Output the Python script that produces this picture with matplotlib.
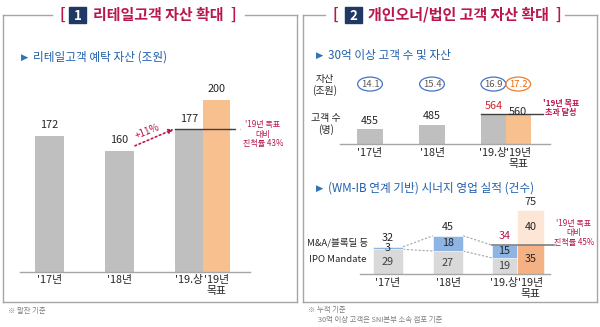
import matplotlib
matplotlib.use('Agg')
import matplotlib.pyplot as plt
from matplotlib.patches import Rectangle, Ellipse
from matplotlib import transforms

plt.rcParams['font.family'] = ['Noto Sans CJK KR', 'DejaVu Sans']

# ---------------- data ----------------
retail_cats = ["'17년", "'18년", "'19.상"]
retail_vals = [172, 160, 177]
retail_target_label = "'19년\n목표"
retail_target = 200
retail_growth = "+11%"
retail_note = "'19년 목표\n대비\n진척률 43%"

hnw_cats = ["'17년", "'18년", "'19.상"]
hnw_assets = [14.1, 15.4, 16.9]
hnw_assets_target = 17.2
hnw_clients = [455, 485, 564]
hnw_clients_target = 560
hnw_note = "'19년 목표\n초과 달성"

syn_cats = ["'17년", "'18년", "'19.상"]
syn_ma = [3, 18, 15]
syn_ipo = [29, 27, 19]
syn_target_done = 35
syn_target_rest = 40
syn_note = "'19년 목표\n대비\n진척률 45%"

# ---------------- style ----------------
CRIMSON = '#b8174f'
NAVY = '#1f3864'
BLUE_T = '#2e75b6'
BLUE_TXT = '#1f5fad'
GRAY_BAR = '#bfbfbf'
ORANGE = '#f9c08f'
FRAME = '#a6a6a6'
TXT = '#262626'

W, H = 600, 327
fig = plt.figure(figsize=(6, 3.27), dpi=100)
ov = fig.add_axes([0, 0, 1, 1])
ov.set_xlim(0, W)
ov.set_ylim(H, 0)
ov.axis('off')


def px_axes(x0, x1, yt, yb):
    ax = fig.add_axes([x0 / W, 1 - yb / H, (x1 - x0) / W, (yb - yt) / H])
    ax.patch.set_visible(False)
    for s in ['top', 'right', 'left']:
        ax.spines[s].set_visible(False)
    ax.spines['bottom'].set_color(FRAME)
    ax.spines['bottom'].set_linewidth(1)
    ax.set_yticks([])
    ax.tick_params(axis='x', length=0, pad=2, labelsize=7.8, labelcolor=TXT)
    return ax


# ---------------- frames & titles ----------------
def panel(xl, xr, gap_l, gap_r, num, title, x_lb, x_box, x_title, x_rb):
    kw = dict(color=FRAME, lw=1)
    ov.plot([xl, gap_l], [15, 15], **kw)
    ov.plot([gap_r, xr], [15, 15], **kw)
    ov.plot([xl, xl], [15, 302], **kw)
    ov.plot([xr, xr], [15, 302], **kw)
    ov.plot([xl, xr], [302, 302], **kw)
    ov.text(x_lb, 15, '[', color=CRIMSON, fontsize=11, fontweight='bold', ha='center', va='center')
    ov.add_patch(Rectangle((x_box, 7), 17, 16, color=NAVY))
    ov.text(x_box + 8.5, 15.5, num, color='white', fontsize=9.5, fontweight='bold', ha='center', va='center')
    ov.text(x_title, 15, title, color=CRIMSON, fontsize=10.8, fontweight='bold', ha='left', va='center')
    ov.text(x_rb, 15, ']', color=CRIMSON, fontsize=11, fontweight='bold', ha='center', va='center')


panel(3, 297, 52, 245, '1', '리테일고객 자산 확대', 62, 69, 93, 233)
panel(303, 597, 325, 565, '2', '개인오너/법인 고객 자산 확대', 335, 345, 368, 558)


def subtitle(x, y, s):
    ov.text(x, y, '▶', color=BLUE_T, fontsize=6.8, ha='left', va='center', family=['DejaVu Sans'])
    ov.text(x + 12, y, s, color=BLUE_TXT, fontsize=8.4, ha='left', va='center')


subtitle(21, 57, '리테일고객 예탁 자산 (조원)')
subtitle(316, 55, '30억 이상 고객 수 및 자산')
subtitle(316, 188, '(WM-IB 연계 기반) 시너지 영업 실적 (건수)')

# footnotes
ov.text(8, 311, '※ 말잔 기준', color='#7f7f7f', fontsize=5.3, ha='left', va='center')
ov.text(308, 310, '※ 누적 기준', color='#7f7f7f', fontsize=5.3, ha='left', va='center')
ov.text(318, 320, '30억 이상 고객은 SNI본부 소속 점포 기준', color='#7f7f7f', fontsize=5.3, ha='left', va='center')

# ---------------- panel 1 chart ----------------
ax1 = px_axes(20, 250, 60, 272)
ax1.set_xlim(-0.42, 2.86)
ax1.set_ylim(65, 231.3)
x1 = [0, 1, 1.99]
w1 = [0.41, 0.41, 0.39]
xt1 = 1.99 + 0.39
ax1.bar(x1, retail_vals, width=w1, color=GRAY_BAR, zorder=2)
ax1.bar([xt1], [retail_target], width=0.39, color=ORANGE, zorder=2)
for x, v in zip(x1 + [xt1], retail_vals + [retail_target]):
    ax1.annotate(str(v), (x, v), xytext=(0, 4), textcoords='offset points',
                 ha='center', va='bottom', fontsize=7.8, color=TXT)
ax1.set_xticks(x1 + [xt1])
ax1.set_xticklabels(retail_cats + [retail_target_label], va='top', linespacing=1.1)
ax1.plot([1.99 - 0.195, xt1 + 0.195], [retail_vals[2]] * 2, color='#404040', lw=1, zorder=3)
ax1.plot([xt1 + 0.195, 2.72], [retail_vals[2]] * 2, color='#404040', lw=1, ls=(0, (4, 3)), zorder=3, clip_on=False)
ax1.annotate('', xy=(1.77, retail_vals[2]), xytext=(1.22, retail_vals[1] + 4),
             arrowprops=dict(arrowstyle='-|>', linestyle=':', color=CRIMSON, lw=1.2,
                             mutation_scale=7, shrinkA=0, shrinkB=0))
ax1.text(1.40, 175, retail_growth, color=CRIMSON, fontsize=7.2, rotation=22,
         ha='center', va='center')
ov.text(263, 134, retail_note, color=CRIMSON, fontsize=5.8, style='italic',
        ha='center', va='center', linespacing=1.05)

# ---------------- panel 2 top chart ----------------
ax2 = px_axes(340, 550, 70, 144)
ax2.set_xlim(-0.484, 2.903)
ax2.set_ylim(346, 346 + 74 / 0.1376)
x2 = [0, 1, 1.99]
w2 = [0.42, 0.42, 0.40]
xt2 = 1.99 + 0.40
ax2.bar(x2, hnw_clients, width=w2, color=GRAY_BAR, zorder=2)
ax2.bar([xt2], [hnw_clients_target], width=0.40, color=ORANGE, zorder=2)
for i, (x, v) in enumerate(zip(x2, hnw_clients)):
    ax2.annotate(str(v), (x, v), xytext=(0, 2.5), textcoords='offset points',
                 ha='center', va='bottom', fontsize=7.8,
                 color='#d0282e' if i == 2 else TXT)
ax2.annotate(str(hnw_clients_target), (xt2, hnw_clients_target), xytext=(0, -2),
             textcoords='offset points', ha='center', va='bottom', fontsize=7.8, color=TXT, zorder=5)
ax2.plot([1.99 - 0.20, 2.79], [hnw_clients[2]] * 2, color='#404040', lw=1, zorder=4, clip_on=False)
ax2.set_xticks(x2 + [xt2])
ax2.set_xticklabels(hnw_cats + ["'19년\n목표"], va='top', linespacing=1.1)
ax2.tick_params(axis='x', pad=3)
bt = transforms.blended_transform_factory(ax2.transData, ax2.transAxes)
for i, (x, v) in enumerate(zip(x2 + [xt2], hnw_assets + [hnw_assets_target])):
    col = '#ed7d31' if i == 3 else '#4472c4'
    tcol = '#e46c0a' if i == 3 else '#595959'
    ax2.add_patch(Ellipse((x, 0.81), 0.40, 14 / 74, transform=bt, fill=False,
                          edgecolor=col, lw=0.9, clip_on=False))
    ax2.text(x, 0.81, f'{v:.1f}', transform=bt, ha='center', va='center',
             fontsize=6.8, color=tcol)
ov.text(325, 85, '자산\n(조원)', color=TXT, fontsize=7.2, ha='center', va='center', linespacing=1.15)
ov.text(326, 124, '고객 수\n(명)', color=TXT, fontsize=7.2, ha='center', va='center', linespacing=1.15)
ov.text(561, 108, hnw_note, color=CRIMSON, fontsize=5.8, style='italic', fontweight='bold',
        ha='center', va='center', linespacing=1.05)

# ---------------- panel 2 bottom chart ----------------
ax3 = px_axes(360, 550, 200, 274)
ax3.set_xlim(-0.467, 2.7)
ax3.set_ylim(0, 74 / 0.85)
x3 = [0, 1, 1.94]
w3 = [0.5, 0.5, 0.42]
xt3 = 2.375
wt3 = 0.45
tot = [a + b for a, b in zip(syn_ipo, syn_ma)]
ax3.bar(x3, syn_ipo, width=w3, color='#d9d9d9', edgecolor='white', lw=0.4, zorder=2)
ax3.bar(x3, syn_ma, width=w3, bottom=syn_ipo, color='#8eb4e3', edgecolor='white', lw=0.4, zorder=2)
ax3.bar([xt3], [syn_target_done], width=wt3, color='#f4b183', edgecolor='white', lw=0.4, zorder=2)
ax3.bar([xt3], [syn_target_rest], width=wt3, bottom=[syn_target_done], color='#fde6d6',
        edgecolor='white', lw=0.4, zorder=2)
for i in range(2):
    xa = x3[i] + w3[i] / 2
    xb = x3[i + 1] - w3[i + 1] / 2
    for ya, yb in [(tot[i], tot[i + 1]), (syn_ipo[i], syn_ipo[i + 1])]:
        ax3.plot([xa, xb], [ya, yb], color='#a6a6a6', lw=0.8, ls=(0, (2, 1.5)), zorder=1)
for i, x in enumerate(x3):
    ax3.text(x, syn_ipo[i] / 2, str(syn_ipo[i]), ha='center', va='center', fontsize=7.8, color='#404040', zorder=5)
    ax3.text(x, syn_ipo[i] + syn_ma[i] / 2, str(syn_ma[i]), ha='center', va='center', fontsize=7.8,
             color='#262626', zorder=5)
    ax3.annotate(str(tot[i]), (x, tot[i]), xytext=(0, 3), textcoords='offset points',
                 ha='center', va='bottom', fontsize=7.8, color=CRIMSON if i == 2 else TXT)
ax3.text(xt3, syn_target_done / 2, str(syn_target_done), ha='center', va='center', fontsize=7.8, color='#262626', zorder=5)
ax3.text(xt3, syn_target_done + syn_target_rest / 2, str(syn_target_rest), ha='center', va='center',
         fontsize=7.8, color='#262626', zorder=5)
ax3.annotate(str(syn_target_done + syn_target_rest), (xt3, syn_target_done + syn_target_rest),
             xytext=(0, 2), textcoords='offset points', ha='center', va='bottom', fontsize=7.8, color=TXT)
ax3.plot([x3[2] - w3[2] / 2, 2.77], [tot[2]] * 2, color='#7f7f7f', lw=1.2, zorder=4, clip_on=False)
ax3.set_xticks(x3 + [xt3])
ax3.set_xticklabels(syn_cats + ["'19년\n목표"], va='top', linespacing=1.1)
ax3.tick_params(axis='x', pad=3)
ov.text(338, 243, 'M&A/블록딜 등', color=TXT, fontsize=6.9, ha='center', va='center')
ov.text(338, 259, 'IPO Mandate', color=TXT, fontsize=6.9, ha='center', va='center')
ov.text(574, 233, syn_note, color=CRIMSON, fontsize=5.8, style='italic',
        ha='center', va='center', linespacing=1.05)

fig.savefig('out.png', dpi=100)
